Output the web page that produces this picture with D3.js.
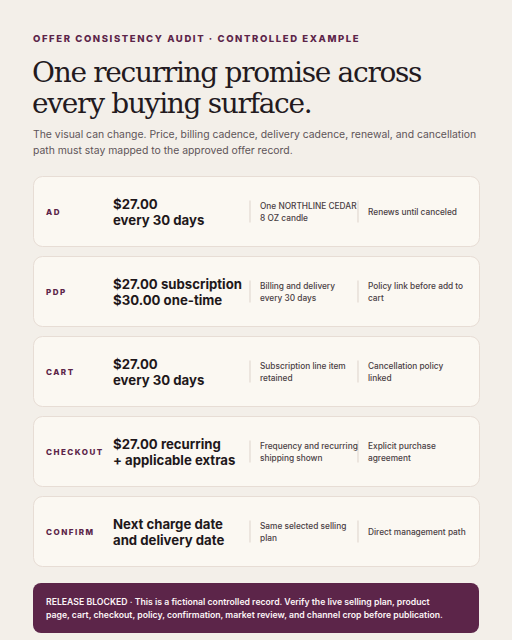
<!DOCTYPE html>
<html><head><meta charset="utf-8">
<script src="https://cdn.jsdelivr.net/npm/d3@7"></script>
<style>body{margin:0;background:#f3efe9;}</style>
</head><body>
<script>
const stages = ["AD","PDP","CART","CHECKOUT","CONFIRM"];
const offers = [["$27.00","every 30 days"],["$27.00 subscription","$30.00 one-time"],["$27.00","every 30 days"],["$27.00 recurring","+ applicable extras"],["Next charge date","and delivery date"]];
const details = [["One NORTHLINE CEDAR","8 OZ candle"],["Billing and delivery","every 30 days"],["Subscription line item","retained"],["Frequency and recurring","shipping shown"],["Same selected selling","plan"]];
const terms = [["Renews until canceled"],["Policy link before add to","cart"],["Cancellation policy","linked"],["Explicit purchase","agreement"],["Direct management path"]];

const W=512,H=640;
const svg=d3.select("body").append("svg").attr("width",W).attr("height",H);
svg.append("rect").attr("width",W).attr("height",H).attr("fill","#f3efe9");
const sans="Inter, 'Noto Sans', sans-serif";
svg.append("text").attr("x",33).attr("y",42).attr("font-family",sans).attr("font-size",9.5).attr("font-weight",800)
 .attr("letter-spacing",1.6).attr("fill","#5c2549").text("OFFER CONSISTENCY AUDIT · CONTROLLED EXAMPLE");
[["One recurring promise across",82],["every buying surface.",113]].forEach(([t,y])=>{
 svg.append("text").attr("x",32).attr("y",y).attr("font-family","'DejaVu Serif', serif").attr("font-size",28)
  .attr("letter-spacing",-1.3).attr("fill","#231a1e").text(t);
});
[["The visual can change. Price, billing cadence, delivery cadence, renewal, and cancellation",138],["path must stay mapped to the approved offer record.",154]].forEach(([t,y])=>{
 svg.append("text").attr("x",33).attr("y",y).attr("font-family",sans).attr("font-size",10.4).attr("fill","#5e5458").text(t);
});
const y=d3.scaleBand().domain(stages).range([176,567]).paddingInner(0.1125).paddingOuter(0);
const g=svg.selectAll("g.row").data(stages).join("g").attr("transform",d=>`translate(0,${y(d)})`);
const h=y.bandwidth();
g.append("rect").attr("x",33.5).attr("y",0.5).attr("width",446).attr("height",h-1).attr("rx",9)
 .attr("fill","#fbf8f2").attr("stroke","#e7ddd5");
g.append("text").attr("x",46).attr("y",h/2+3.5).attr("font-family",sans).attr("font-size",8).attr("font-weight",800)
 .attr("letter-spacing",1.5).attr("fill","#5c2549").text(d=>d);
g.each(function(d,i){
 const s=d3.select(this);
 offers[i].forEach((t,j)=>s.append("text").attr("x",113).attr("y",h/2-3+j*16).attr("font-family",sans).attr("font-size",13.2)
  .attr("font-weight",700).attr("fill","#1f181b").text(t));
 [250,358].forEach(x=>s.append("line").attr("x1",x).attr("x2",x).attr("y1",h/2-11).attr("y2",h/2+11).attr("stroke","#ddd3cb"));
 const put=(arr,x)=>{const n=arr.length;arr.forEach((t,j)=>s.append("text").attr("x",x).attr("y",h/2+3.5+(j-(n-1)/2)*12)
  .attr("font-family",sans).attr("font-size",8.3).attr("font-weight",500).attr("fill","#4a4044").text(t));};
 put(details[i],260); put(terms[i],368);
});
svg.append("rect").attr("x",33).attr("y",583).attr("width",446).attr("height",50).attr("rx",8).attr("fill","#5c2549");
[["RELEASE BLOCKED · This is a fictional controlled record. Verify the live selling plan, product",605],["page, cart, checkout, policy, confirmation, market review, and channel crop before publication.",618]].forEach(([t,yy])=>{
 svg.append("text").attr("x",46).attr("y",yy).attr("font-family",sans).attr("font-size",8.7).attr("font-weight",600).attr("fill","#fbf3f6").text(t);
});
</script>
</body></html>
